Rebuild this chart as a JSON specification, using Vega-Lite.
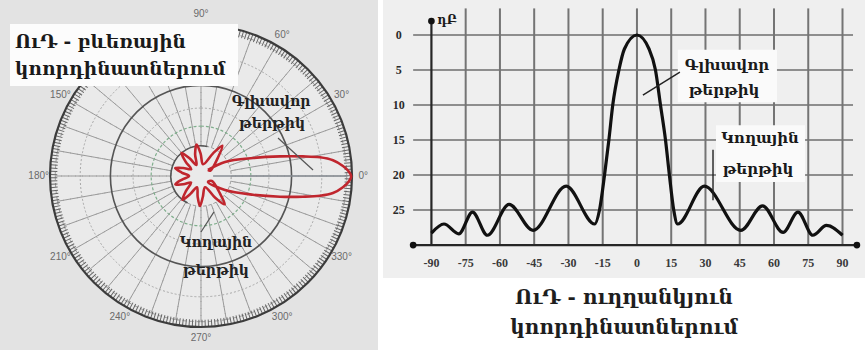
{
  "$schema": "https://vega.github.io/schema/vega-lite/v6.json",
  "background": "white",
  "padding": 0,
  "spacing": 5,
  "config": {"view": {"stroke": null}},
  "hconcat": [
    {
      "width": 378,
      "height": 350,
      "view": {"fill": "#e3e3e3", "stroke": null},
      "layer": [
        {
          "data": {"values": [{"r": 1}]},
          "mark": {"type": "arc", "theta": 0, "theta2": 6.2832, "fill": "#eaeaea"},
          "encoding": {
            "x": {"datum": 0, "type": "quantitative", "scale": {"domain": [-1.3311, 1.1722], "nice": false, "zero": false}, "axis": null},
            "y": {"datum": 0, "type": "quantitative", "scale": {"domain": [-1.1523, 1.1656], "nice": false, "zero": false}, "axis": null},
            "radius": {"field": "r", "type": "quantitative", "stack": null, "scale": {"type": "linear", "domain": [0, 1], "range": [0, 151], "zero": true, "nice": false}}
          }
        },
        {
          "data": {"values": [{"r": 0.8}, {"r": 0.45}]},
          "mark": {"type": "arc", "theta": 0, "theta2": 6.2832, "fillOpacity": 0, "stroke": "#a8a8a8", "strokeDash": [2, 2], "strokeWidth": 1},
          "encoding": {
            "x": {"datum": 0, "type": "quantitative", "axis": null},
            "y": {"datum": 0, "type": "quantitative", "axis": null},
            "radius": {"field": "r", "type": "quantitative", "stack": null, "scale": {"type": "linear", "domain": [0, 1], "range": [0, 151], "zero": true, "nice": false}}
          }
        },
        {
          "data": {"values": [
            {"a": 0, "a2": 10}, {"a": 10, "a2": 20}, {"a": 20, "a2": 30}, {"a": 30, "a2": 40}, {"a": 40, "a2": 50}, {"a": 50, "a2": 60},
            {"a": 60, "a2": 70}, {"a": 70, "a2": 80}, {"a": 80, "a2": 90}, {"a": 90, "a2": 100}, {"a": 100, "a2": 110}, {"a": 110, "a2": 120},
            {"a": 120, "a2": 130}, {"a": 130, "a2": 140}, {"a": 140, "a2": 150}, {"a": 150, "a2": 160}, {"a": 160, "a2": 170}, {"a": 170, "a2": 180},
            {"a": 180, "a2": 190}, {"a": 190, "a2": 200}, {"a": 200, "a2": 210}, {"a": 210, "a2": 220}, {"a": 220, "a2": 230}, {"a": 230, "a2": 240},
            {"a": 240, "a2": 250}, {"a": 250, "a2": 260}, {"a": 260, "a2": 270}, {"a": 270, "a2": 280}, {"a": 280, "a2": 290}, {"a": 290, "a2": 300},
            {"a": 300, "a2": 310}, {"a": 310, "a2": 320}, {"a": 320, "a2": 330}, {"a": 330, "a2": 340}, {"a": 340, "a2": 350}, {"a": 350, "a2": 360}
          ]},
          "mark": {"type": "arc", "fillOpacity": 0, "stroke": "#9a9a9a", "strokeDash": [4, 3], "strokeWidth": 1},
          "encoding": {
            "x": {"datum": 0, "type": "quantitative", "axis": null},
            "y": {"datum": 0, "type": "quantitative", "axis": null},
            "theta": {"field": "a", "type": "quantitative", "stack": null, "scale": {"domain": [0, 360], "range": [1.5708, -4.7124], "zero": false, "nice": false}},
            "theta2": {"field": "a2"},
            "radius": {"datum": 0.965, "type": "quantitative", "stack": null, "scale": {"type": "linear", "domain": [0, 1], "range": [0, 151], "zero": true, "nice": false}},
            "radius2": {"datum": 0.2}
          }
        },
        {
          "data": {"values": [{"r": 0.6}]},
          "mark": {"type": "arc", "theta": 0, "theta2": 6.2832, "fillOpacity": 0, "stroke": "#555555", "strokeWidth": 1.6},
          "encoding": {
            "x": {"datum": 0, "type": "quantitative", "axis": null},
            "y": {"datum": 0, "type": "quantitative", "axis": null},
            "radius": {"field": "r", "type": "quantitative", "stack": null, "scale": {"type": "linear", "domain": [0, 1], "range": [0, 151], "zero": true, "nice": false}}
          }
        },
        {
          "data": {"values": [{"r": 0.33}]},
          "mark": {"type": "arc", "theta": 0, "theta2": 6.2832, "fillOpacity": 0, "stroke": "#7fae8c", "strokeDash": [3, 2], "strokeWidth": 1.2},
          "encoding": {
            "x": {"datum": 0, "type": "quantitative", "axis": null},
            "y": {"datum": 0, "type": "quantitative", "axis": null},
            "radius": {"field": "r", "type": "quantitative", "stack": null, "scale": {"type": "linear", "domain": [0, 1], "range": [0, 151], "zero": true, "nice": false}}
          }
        },
        {
          "data": {"values": [{"r": 0.2}]},
          "mark": {"type": "arc", "theta": 3.6, "theta2": 6.5, "fillOpacity": 0, "stroke": "#555555", "strokeWidth": 1.6},
          "encoding": {
            "x": {"datum": 0, "type": "quantitative", "axis": null},
            "y": {"datum": 0, "type": "quantitative", "axis": null},
            "radius": {"field": "r", "type": "quantitative", "stack": null, "scale": {"type": "linear", "domain": [0, 1], "range": [0, 151], "zero": true, "nice": false}},
            "radius2": {"field": "r"}
          }
        },
        {
          "data": {"values": [{"r": 0.975}]},
          "mark": {"type": "arc", "theta": 0, "theta2": 6.2832, "fillOpacity": 0, "stroke": "#666666", "strokeDash": [1, 2.2], "strokeWidth": 7},
          "encoding": {
            "x": {"datum": 0, "type": "quantitative", "axis": null},
            "y": {"datum": 0, "type": "quantitative", "axis": null},
            "radius": {"field": "r", "type": "quantitative", "stack": null, "scale": {"type": "linear", "domain": [0, 1], "range": [0, 151], "zero": true, "nice": false}}
          }
        },
        {
          "data": {"values": [{"r": 1}]},
          "mark": {"type": "arc", "theta": 0, "theta2": 6.2832, "fillOpacity": 0, "stroke": "#3c3c3c", "strokeWidth": 2.2},
          "encoding": {
            "x": {"datum": 0, "type": "quantitative", "axis": null},
            "y": {"datum": 0, "type": "quantitative", "axis": null},
            "radius": {"field": "r", "type": "quantitative", "stack": null, "scale": {"type": "linear", "domain": [0, 1], "range": [0, 151], "zero": true, "nice": false}}
          }
        },
        {
          "data": {"values": [
            {"a": 0, "t": "0°"}, {"a": 30, "t": "30°"}, {"a": 60, "t": "60°"}, {"a": 90, "t": "90°"}, {"a": 150, "t": "150°"},
            {"a": 180, "t": "180°"}, {"a": 210, "t": "210°"}, {"a": 240, "t": "240°"}, {"a": 270, "t": "270°"}, {"a": 300, "t": "300°"}, {"a": 330, "t": "330°"}
          ]},
          "mark": {"type": "text", "font": "Liberation Sans", "fontSize": 10, "color": "#6a6a6a", "align": "center", "baseline": "middle"},
          "encoding": {
            "x": {"datum": 0, "type": "quantitative", "axis": null},
            "y": {"datum": 0, "type": "quantitative", "axis": null},
            "theta": {"field": "a", "type": "quantitative", "stack": null, "scale": {"domain": [0, 360], "range": [1.5708, -4.7124], "zero": false, "nice": false}},
            "radius": {"datum": 1.075, "type": "quantitative", "stack": null, "scale": {"type": "linear", "domain": [0, 1], "range": [0, 151], "zero": true, "nice": false}},
            "text": {"field": "t"}
          }
        },
        {
          "data": {"values": [
            {"x": 0.08, "y": 0.0, "x2": 0.97, "y2": 0.0}
          ]},
          "mark": {"type": "rule", "color": "#8a8f96", "strokeWidth": 1.6},
          "encoding": {
            "x": {"field": "x", "type": "quantitative", "axis": null},
            "y": {"field": "y", "type": "quantitative", "axis": null},
            "x2": {"field": "x2"},
            "y2": {"field": "y2"}
          }
        },
        {
          "data": {"values": [
            {"i": 0, "x": 0.046, "y": 0.040}, {"i": 1, "x": 0.159, "y": 0.093}, {"i": 2, "x": 0.344, "y": 0.119}, {"i": 3, "x": 0.523, "y": 0.130},
            {"i": 4, "x": 0.675, "y": 0.130}, {"i": 5, "x": 0.788, "y": 0.124}, {"i": 6, "x": 0.874, "y": 0.104}, {"i": 7, "x": 0.940, "y": 0.066},
            {"i": 8, "x": 0.980, "y": 0.028}, {"i": 9, "x": 0.995, "y": -0.003}, {"i": 10, "x": 0.980, "y": -0.035}, {"i": 11, "x": 0.940, "y": -0.075},
            {"i": 12, "x": 0.874, "y": -0.113}, {"i": 13, "x": 0.788, "y": -0.131}, {"i": 14, "x": 0.675, "y": -0.137}, {"i": 15, "x": 0.523, "y": -0.137},
            {"i": 16, "x": 0.344, "y": -0.124}, {"i": 17, "x": 0.159, "y": -0.093}, {"i": 18, "x": 0.046, "y": -0.040},
            {"i": 19, "x": 0.072, "y": -0.033}, {"i": 20, "x": 0.126, "y": -0.117}, {"i": 21, "x": 0.157, "y": -0.188}, {"i": 22, "x": 0.094, "y": -0.144},
            {"i": 23, "x": 0.027, "y": -0.074}, {"i": 24, "x": 0.012, "y": -0.139}, {"i": 25, "x": -0.007, "y": -0.199}, {"i": 26, "x": -0.022, "y": -0.138},
            {"i": 27, "x": -0.027, "y": -0.074}, {"i": 28, "x": -0.072, "y": -0.120}, {"i": 29, "x": -0.123, "y": -0.157}, {"i": 30, "x": -0.099, "y": -0.099},
            {"i": 31, "x": -0.066, "y": -0.043}, {"i": 32, "x": -0.118, "y": -0.055}, {"i": 33, "x": -0.170, "y": -0.055}, {"i": 34, "x": -0.128, "y": -0.025},
            {"i": 35, "x": -0.079, "y": 0.0}, {"i": 36, "x": -0.128, "y": 0.023}, {"i": 37, "x": -0.171, "y": 0.052}, {"i": 38, "x": -0.119, "y": 0.053},
            {"i": 39, "x": -0.065, "y": 0.045}, {"i": 40, "x": -0.102, "y": 0.095}, {"i": 41, "x": -0.129, "y": 0.153}, {"i": 42, "x": -0.076, "y": 0.117},
            {"i": 43, "x": -0.030, "y": 0.073}, {"i": 44, "x": -0.039, "y": 0.145}, {"i": 45, "x": -0.029, "y": 0.208}, {"i": 46, "x": -0.003, "y": 0.150},
            {"i": 47, "x": 0.014, "y": 0.078}, {"i": 48, "x": 0.080, "y": 0.150}, {"i": 49, "x": 0.141, "y": 0.201}, {"i": 50, "x": 0.114, "y": 0.126},
            {"i": 51, "x": 0.061, "y": 0.035}, {"i": 52, "x": 0.046, "y": 0.040}
          ]},
          "mark": {"type": "line", "color": "#c0262e", "strokeWidth": 2.6, "interpolate": "catmull-rom", "strokeJoin": "round"},
          "encoding": {
            "x": {"field": "x", "type": "quantitative", "axis": null},
            "y": {"field": "y", "type": "quantitative", "axis": null},
            "order": {"field": "i", "type": "quantitative"}
          }
        },
        {
          "data": {"values": [
            {"x": 0.510, "y": 0.252, "x2": 0.742, "y2": 0.040},
            {"x": 0.0, "y": -0.371, "x2": 0.086, "y2": -0.238}
          ]},
          "mark": {"type": "rule", "color": "#555555", "strokeWidth": 1.2},
          "encoding": {
            "x": {"field": "x", "type": "quantitative", "axis": null},
            "y": {"field": "y", "type": "quantitative", "axis": null},
            "x2": {"field": "x2"},
            "y2": {"field": "y2"}
          }
        },
        {
          "data": {"values": [
            {"t": "Գլխավոր", "x": 0.464, "y": 0.490},
            {"t": "թերթիկ", "x": 0.470, "y": 0.344},
            {"t": "Կողային", "x": 0.099, "y": -0.444},
            {"t": "թերթիկ", "x": 0.099, "y": -0.629}
          ]},
          "mark": {"type": "text", "font": "DejaVu Serif", "fontWeight": "bold", "fontSize": 14, "color": "#222222", "align": "center", "baseline": "middle"},
          "encoding": {
            "x": {"field": "x", "type": "quantitative", "axis": null},
            "y": {"field": "y", "type": "quantitative", "axis": null},
            "text": {"field": "t"}
          }
        },
        {
          "data": {"values": [{"x": -1.265, "x2": 0.245, "y": 1.007, "y2": 0.596}]},
          "mark": {"type": "rect", "color": "#fcfcfc"},
          "encoding": {
            "x": {"field": "x", "type": "quantitative", "axis": null},
            "x2": {"field": "x2"},
            "y": {"field": "y", "type": "quantitative", "axis": null},
            "y2": {"field": "y2"}
          }
        },
        {
          "data": {"values": [
            {"t": "ՈւԴ - բևեռային", "x": -1.232, "y": 0.848},
            {"t": "կոորդինատներում", "x": -1.232, "y": 0.669}
          ]},
          "mark": {"type": "text", "font": "DejaVu Serif", "fontWeight": "bold", "fontSize": 18.5, "color": "#1a1a1a", "align": "left", "baseline": "alphabetic"},
          "encoding": {
            "x": {"field": "x", "type": "quantitative", "axis": null},
            "y": {"field": "y", "type": "quantitative", "axis": null},
            "text": {"field": "t"}
          }
        }
      ]
    },
    {
      "width": 482,
      "height": 278,
      "view": {"fill": "#efefef", "stroke": null},
      "title": {
        "text": ["ՈւԴ - ուղղանկյուն", "կոորդինատներում"],
        "orient": "bottom",
        "anchor": "middle",
        "font": "DejaVu Serif",
        "fontWeight": "bold",
        "fontSize": 20,
        "lineHeight": 30,
        "color": "#1e1e1e",
        "offset": 10
      },
      "layer": [
        {
          "data": {"values": [{"v": 0}, {"v": 5}, {"v": 10}, {"v": 15}, {"v": 20}, {"v": 25}]},
          "mark": {"type": "rule", "color": "#8e8e8e", "strokeWidth": 2},
          "encoding": {
            "y": {"field": "v", "type": "quantitative", "scale": {"domain": [-5, 34.71], "reverse": true, "nice": false, "zero": false}, "axis": null},
            "x": {"datum": -98, "type": "quantitative", "scale": {"domain": [-111.2, 99.85], "nice": false, "zero": false}, "axis": null},
            "x2": {"datum": 94.6}
          }
        },
        {
          "data": {"values": [{"v": -75}, {"v": -60}, {"v": -45}, {"v": -30}, {"v": -15}, {"v": 0}, {"v": 15}, {"v": 30}, {"v": 45}, {"v": 60}, {"v": 75}, {"v": 90}]},
          "mark": {"type": "rule", "color": "#747474", "strokeWidth": 2},
          "encoding": {
            "x": {"field": "v", "type": "quantitative", "axis": null},
            "y": {"datum": -3.8, "type": "quantitative", "axis": null},
            "y2": {"datum": 30}
          }
        },
        {
          "data": {"values": [{"x": -90, "y": -2, "x2": -90, "y2": 30}, {"x": -98, "y": 30, "x2": 96.3, "y2": 30}]},
          "mark": {"type": "rule", "color": "#262626", "strokeWidth": 2.2},
          "encoding": {
            "x": {"field": "x", "type": "quantitative", "axis": null},
            "y": {"field": "y", "type": "quantitative", "axis": null},
            "x2": {"field": "x2"},
            "y2": {"field": "y2"}
          }
        },
        {
          "data": {"values": [{"x": -90, "y": -2}, {"x": -98, "y": 30}, {"x": 96.3, "y": 30}]},
          "mark": {"type": "point", "filled": true, "color": "#111111", "size": 45, "opacity": 1},
          "encoding": {
            "x": {"field": "x", "type": "quantitative", "axis": null},
            "y": {"field": "y", "type": "quantitative", "axis": null}
          }
        },
        {
          "data": {"values": [
            {"x": -90, "y": 28.3}, {"x": -84.5, "y": 27.0}, {"x": -78, "y": 28.4}, {"x": -72, "y": 25.3}, {"x": -65.5, "y": 28.6},
            {"x": -56, "y": 24.2}, {"x": -45.5, "y": 27.9}, {"x": -31, "y": 21.6}, {"x": -18.5, "y": 27.0}, {"x": -16.4, "y": 25},
            {"x": -14.2, "y": 20}, {"x": -12.3, "y": 15}, {"x": -10.6, "y": 10}, {"x": -7.9, "y": 5}, {"x": -5.5, "y": 2},
            {"x": 0, "y": 0}, {"x": 5.3, "y": 2}, {"x": 8.1, "y": 5}, {"x": 10.3, "y": 10}, {"x": 12.5, "y": 15},
            {"x": 14.2, "y": 20}, {"x": 16.1, "y": 25}, {"x": 17.8, "y": 27.0}, {"x": 29.5, "y": 21.6}, {"x": 45.5, "y": 27.9},
            {"x": 55, "y": 24.4}, {"x": 64, "y": 28.2}, {"x": 70.5, "y": 25.3}, {"x": 77, "y": 28.6}, {"x": 83, "y": 27.2}, {"x": 90, "y": 28.6}
          ]},
          "mark": {"type": "line", "color": "#111111", "strokeWidth": 3.2, "interpolate": "monotone"},
          "encoding": {
            "x": {"field": "x", "type": "quantitative", "axis": null},
            "y": {"field": "y", "type": "quantitative", "axis": null}
          }
        },
        {
          "data": {"values": [
            {"x": 17.9, "x2": 61.3, "y": 2.1, "y2": 9.6},
            {"x": 34.6, "x2": 73.6, "y": 12.9, "y2": 21.0}
          ]},
          "mark": {"type": "rect", "color": "#fafafa"},
          "encoding": {
            "x": {"field": "x", "type": "quantitative", "axis": null},
            "x2": {"field": "x2"},
            "y": {"field": "y", "type": "quantitative", "axis": null},
            "y2": {"field": "y2"}
          }
        },
        {
          "data": {"values": [
            {"x": 2.6, "y": 8.6, "x2": 18.8, "y2": 5.3},
            {"x": 33.3, "y": 16.4, "x2": 33.3, "y2": 23.6}
          ]},
          "mark": {"type": "rule", "color": "#222222", "strokeWidth": 1.4},
          "encoding": {
            "x": {"field": "x", "type": "quantitative", "axis": null},
            "y": {"field": "y", "type": "quantitative", "axis": null},
            "x2": {"field": "x2"},
            "y2": {"field": "y2"}
          }
        },
        {
          "data": {"values": [
            {"t": "Գլխավոր", "x": 39.4, "y": 4.3},
            {"t": "թերթիկ", "x": 38.1, "y": 7.9},
            {"t": "Կողային", "x": 53.9, "y": 14.7},
            {"t": "թերթիկ", "x": 53.0, "y": 19.1}
          ]},
          "mark": {"type": "text", "font": "DejaVu Serif", "fontWeight": "bold", "fontSize": 15, "color": "#1a1a1a", "align": "center", "baseline": "middle"},
          "encoding": {
            "x": {"field": "x", "type": "quantitative", "axis": null},
            "y": {"field": "y", "type": "quantitative", "axis": null},
            "text": {"field": "t"}
          }
        },
        {
          "data": {"values": [
            {"v": 0, "t": "0"}, {"v": 5, "t": "5"}, {"v": 10, "t": "10"}, {"v": 15, "t": "15"}, {"v": 20, "t": "20"}, {"v": 25, "t": "25"}
          ]},
          "mark": {"type": "text", "font": "Liberation Serif", "fontWeight": "bold", "fontSize": 12, "color": "#2a2a2a", "align": "center", "baseline": "middle"},
          "encoding": {
            "x": {"datum": -104.3, "type": "quantitative", "axis": null},
            "y": {"field": "v", "type": "quantitative", "axis": null},
            "text": {"field": "t"}
          }
        },
        {
          "data": {"values": [
            {"v": -90, "t": "-90"}, {"v": -75, "t": "-75"}, {"v": -60, "t": "-60"}, {"v": -45, "t": "-45"}, {"v": -30, "t": "-30"}, {"v": -15, "t": "-15"},
            {"v": 0, "t": "0"}, {"v": 15, "t": "15"}, {"v": 30, "t": "30"}, {"v": 45, "t": "45"}, {"v": 60, "t": "60"}, {"v": 75, "t": "75"}, {"v": 90, "t": "90"}
          ]},
          "mark": {"type": "text", "font": "Liberation Serif", "fontWeight": "bold", "fontSize": 12, "color": "#3a3a3a", "align": "center", "baseline": "middle"},
          "encoding": {
            "x": {"field": "v", "type": "quantitative", "axis": null},
            "y": {"datum": 32.6, "type": "quantitative", "axis": null},
            "text": {"field": "t"}
          }
        },
        {
          "data": {"values": [{"t": "դԲ", "x": -83.2, "y": -2.1}]},
          "mark": {"type": "text", "font": "DejaVu Serif", "fontWeight": "bold", "fontSize": 12, "color": "#1a1a1a", "align": "center", "baseline": "middle"},
          "encoding": {
            "x": {"field": "x", "type": "quantitative", "axis": null},
            "y": {"field": "y", "type": "quantitative", "axis": null},
            "text": {"field": "t"}
          }
        }
      ]
    }
  ]
}
